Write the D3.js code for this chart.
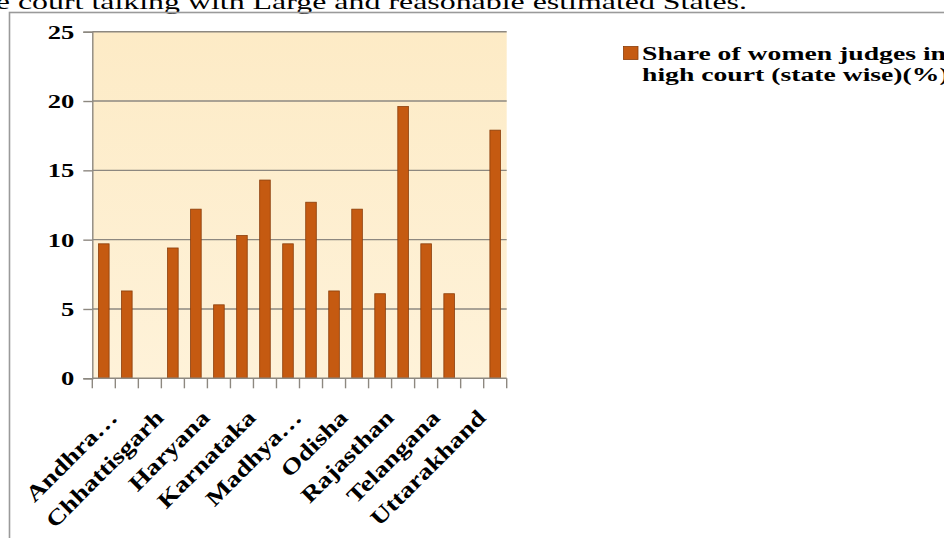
<!DOCTYPE html>
<html>
<head>
<meta charset="utf-8">
<script src="https://cdn.jsdelivr.net/npm/d3@7"></script>
<style>
  html, body { margin: 0; padding: 0; background: #ffffff; }
  svg { display: block; }
</style>
</head>
<body>
<svg id="chart" width="944" height="538"></svg>
<script>
// State-wise share of women judges in the high courts (%)
const states = [
  "Andhra Pradesh", "Bihar", "Chhattisgarh", "Gujarat", "Haryana", "Jharkhand",
  "Karnataka", "Kerala", "Madhya Pradesh", "Maharashtra", "Odisha", "Punjab",
  "Rajasthan", "Tamil Nadu", "Telangana", "Uttar Pradesh", "Uttarakhand", "West Bengal"
];
const sharePct = [9.7, 6.3, 0, 9.4, 12.2, 5.3, 10.3, 14.3, 9.7, 12.7, 6.3, 12.2, 6.1, 19.6, 9.7, 6.1, 0, 17.9];
// Axis labels as printed (alternate categories only, long names shortened)
const xTickLabels = ["Andhra…", "", "Chhattisgarh", "", "Haryana", "", "Karnataka", "", "Madhya…", "",
  "Odisha", "", "Rajasthan", "", "Telangana", "", "Uttarakhand", ""];
const yTicks = [0, 5, 10, 15, 20, 25];
const seriesName = ["Share of women judges in", "high court (state wise)(%)"];
const headline = "e court talking with Large and reasonable estimated States.";

const svg = d3.select("#chart");
const SX = 1.45;              // horizontal stretch of the figure's lettering
const serif = "'Liberation Serif', 'Times New Roman', serif";
const barFill = "#c55a11", barEdge = "#8a3d0a";

// Running text above the figure
svg.append("text")
  .attr("transform", `translate(747,8.5) scale(${SX},1)`)
  .attr("text-anchor", "end")
  .attr("font-family", serif).attr("font-size", 22)
  .attr("fill", "#000")
  .text(headline);

// Figure frame
svg.append("rect")
  .attr("x", 9.5).attr("y", 12.5).attr("width", 1000).attr("height", 600)
  .attr("fill", "none").attr("stroke", "#9a9a9a").attr("stroke-width", 1.6);

const plot = { left: 92.3, right: 506.7, top: 31.7, bottom: 378.3 };

const x = d3.scaleBand().domain(states)
  .range([plot.left, plot.right]).paddingInner(0.54).paddingOuter(0.27);
const y = d3.scaleLinear().domain([0, 25]).range([plot.bottom, plot.top]);

// Plot background
const defs = svg.append("defs");
const grad = defs.append("linearGradient").attr("id", "plotBg")
  .attr("x1", 0).attr("y1", 0).attr("x2", 0).attr("y2", 1);
grad.append("stop").attr("offset", "0%").attr("stop-color", "#fdebc6");
grad.append("stop").attr("offset", "100%").attr("stop-color", "#fef2d9");
svg.append("rect")
  .attr("x", plot.left).attr("y", plot.top)
  .attr("width", plot.right - plot.left).attr("height", plot.bottom - plot.top)
  .attr("fill", "url(#plotBg)");

// Horizontal gridlines
svg.append("g").selectAll("line").data(yTicks.filter(d => d > 0)).join("line")
  .attr("x1", plot.left).attr("x2", plot.right)
  .attr("y1", d => y(d)).attr("y2", d => y(d))
  .attr("stroke", "#8d8880").attr("stroke-width", 1.4);

// Bars
svg.append("g").selectAll("rect").data(states).join("rect")
  .attr("x", d => x(d))
  .attr("y", (d, i) => y(sharePct[i]))
  .attr("width", x.bandwidth())
  .attr("height", (d, i) => y(0) - y(sharePct[i]))
  .attr("fill", barFill).attr("stroke", barEdge).attr("stroke-width", 0.8);

// Y axis
const yAxis = svg.append("g").attr("transform", `translate(${plot.left},0)`)
  .call(d3.axisLeft(y).tickValues(yTicks).tickSize(9).tickPadding(0).tickFormat(() => ""));
yAxis.select(".domain").attr("stroke", "#8d8880").attr("stroke-width", 1.4);
yAxis.selectAll(".tick line").attr("stroke", "#8d8880").attr("stroke-width", 1.4);
yAxis.selectAll(".tick").append("text")
  .attr("transform", `translate(-18,0) scale(1.4,1)`)
  .attr("x", 0).attr("dy", "0.34em")
  .attr("text-anchor", "end")
  .attr("font-family", serif).attr("font-size", 19).attr("font-weight", "bold")
  .attr("fill", "#000")
  .text(d => d);

// X axis: baseline with tick marks on the band boundaries
const step = x.step();
const boundaries = d3.range(states.length + 1).map(i => plot.left + i * step);
svg.append("line")
  .attr("x1", plot.left).attr("x2", plot.right)
  .attr("y1", y(0)).attr("y2", y(0))
  .attr("stroke", "#8d8880").attr("stroke-width", 1.4);
svg.append("g").selectAll("line").data(boundaries).join("line")
  .attr("x1", d => d).attr("x2", d => d)
  .attr("y1", y(0)).attr("y2", y(0) + 10)
  .attr("stroke", "#8d8880").attr("stroke-width", 1.4);

// Category labels, slanted at 45 degrees
svg.append("g").selectAll("text").data(states).join("text")
  .attr("transform", d => `translate(${x(d) + x.bandwidth() / 2 + 15},419) rotate(-45) scale(1.25,1)`)
  .attr("text-anchor", "end")
  .attr("font-family", serif).attr("font-size", 22).attr("font-weight", "bold")
  .attr("fill", "#000")
  .text((d, i) => xTickLabels[i]);

// Legend
const lg = svg.append("g");
lg.append("rect").attr("x", 623.5).attr("y", 46.5).attr("width", 14.5).attr("height", 13)
  .attr("fill", barFill).attr("stroke", barEdge).attr("stroke-width", 0.8);
lg.selectAll("text").data(seriesName).join("text")
  .attr("transform", (d, i) => `translate(642,${59.5 + i * 21}) scale(1.42,1)`)
  .attr("font-family", serif).attr("font-size", 19.5).attr("font-weight", "bold")
  .attr("fill", "#000")
  .text(d => d);
</script>
</body>
</html>
